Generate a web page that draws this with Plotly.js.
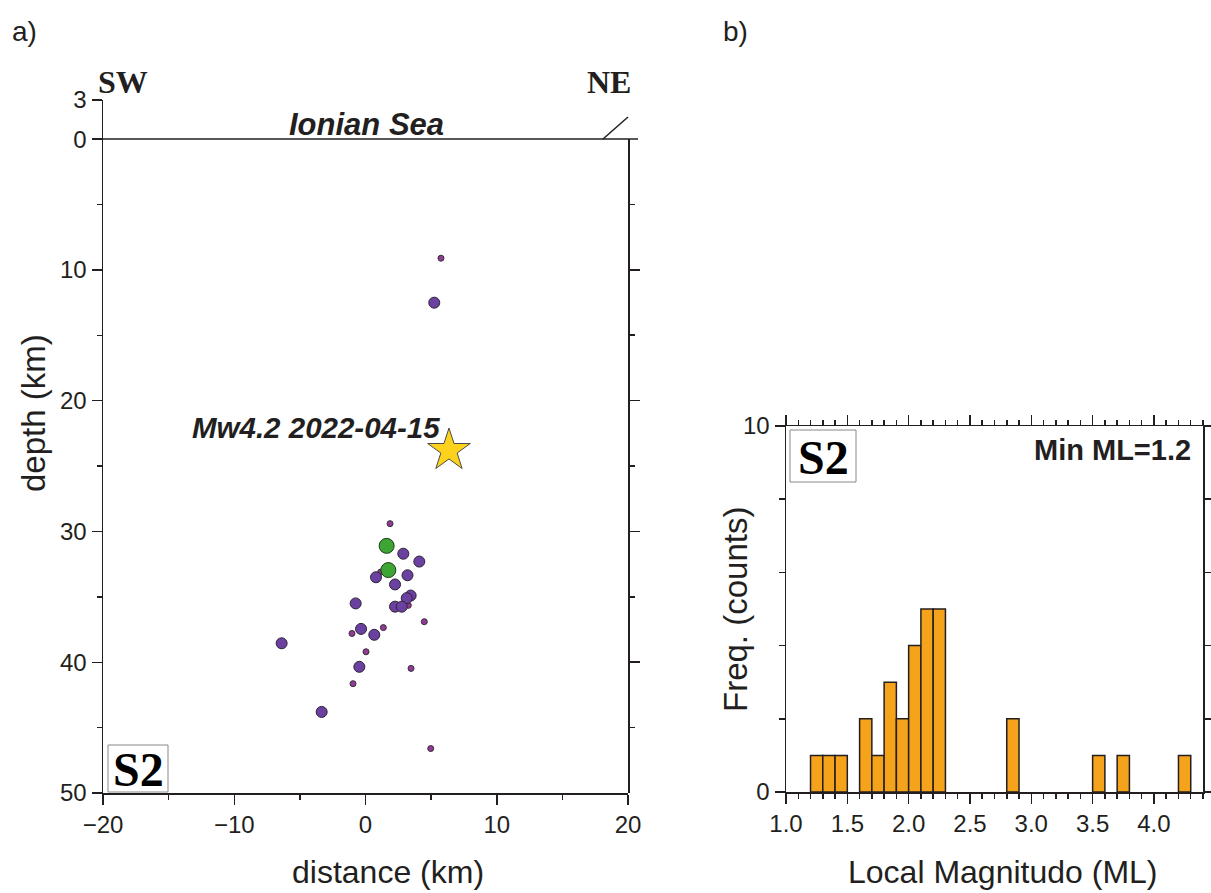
<!DOCTYPE html>
<html>
<head>
<meta charset="utf-8">
<script src="https://cdn.plot.ly/plotly-3.0.1.min.js"></script>
<style>html,body{margin:0;padding:0;background:#fff;}</style>
</head>
<body>
<div id="chart" style="width:1211px;height:893px;"></div>
<script>
// ---- Data: cross-section S2 (distance km, depth km) ----
const smallDist  = [5.75, 1.87, 1.16, 3.26, 4.48, 1.36, -1.03, 0.04, 3.47, -0.95, 4.97];
const smallDepth = [9.1, 29.4, 33.1, 35.65, 36.9, 37.35, 37.8, 39.2, 40.47, 41.64, 46.6];
const midDist    = [5.24, 2.88, 4.1, 0.8, 3.2, 2.25, 3.44, 3.14, -0.75, 2.25, 2.76, -0.34, 0.67, -6.39, -0.47, -3.34];
const midDepth   = [12.5, 31.7, 32.3, 33.5, 33.35, 34.05, 34.9, 35.1, 35.5, 35.75, 35.75, 37.45, 37.9, 38.55, 40.35, 43.8];
const bigDist    = [1.61, 1.74];
const bigDepth   = [31.1, 32.95];
const mainDist   = [6.36];
const mainDepth  = [23.8];
const mainLabel  = "Mw4.2 2022-04-15";

// ---- Data: histogram of local magnitude ----
const mlBinStart = [1.2, 1.3, 1.4, 1.6, 1.7, 1.8, 1.9, 2.0, 2.1, 2.2, 2.8, 3.5, 3.7, 4.2];
const mlCounts   = [1, 1, 1, 2, 1, 3, 2, 4, 5, 5, 2, 1, 1, 1];
const mlBinWidth = 0.1;

const depthTicks = [-3, 0, 10, 20, 30, 40, 50];
const depthTickText = ["3", "0", "10", "20", "30", "40", "50"];
const distTicks = [-20, -10, 0, 10, 20];
const mlTicks = [1.0, 1.5, 2.0, 2.5, 3.0, 3.5, 4.0];
const mlTickText = ["1.0", "1.5", "2.0", "2.5", "3.0", "3.5", "4.0"];
const freqTicks = [0, 10];

// ---- Layout helpers ----
const W = 1211, H = 893;
const fx = p => p / W;
const fy = p => 1 - p / H;
const INK = '#231f20';
const SANS = 'Liberation Sans, Arial, sans-serif';
const SERIF = 'Liberation Serif, Times New Roman, serif';

const traces = [
  {x: smallDist, y: smallDepth, xaxis: 'x', yaxis: 'y', type: 'scatter', mode: 'markers',
   marker: {size: 6, color: '#8f3c94', line: {color: '#3a2a3a', width: 1}}, hoverinfo: 'x+y'},
  {x: midDist, y: midDepth, xaxis: 'x', yaxis: 'y', type: 'scatter', mode: 'markers',
   marker: {size: 11, color: '#6a41a0', line: {color: '#2e2233', width: 1}}, hoverinfo: 'x+y'},
  {x: bigDist, y: bigDepth, xaxis: 'x', yaxis: 'y', type: 'scatter', mode: 'markers',
   marker: {size: 15, color: '#3da534', line: {color: '#1f3a1c', width: 1}}, hoverinfo: 'x+y'},
  {x: mainDist, y: mainDepth, xaxis: 'x', yaxis: 'y', type: 'scatter', mode: 'markers',
   marker: {size: 32, symbol: 'star', color: '#fdd21c', line: {color: '#4a4a4a', width: 1}}, hoverinfo: 'x+y'},
  {x: [], y: [], xaxis: 'x', yaxis: 'y3', type: 'scatter', mode: 'markers', hoverinfo: 'skip'},
  {x: mlBinStart, y: mlCounts, xaxis: 'x2', yaxis: 'y2', type: 'bar', width: mlBinWidth, offset: 0,
   marker: {color: '#f6a31c', line: {color: INK, width: 1.5}}}
];

const axisCommon = {
  showline: true, linecolor: INK, linewidth: 1.5, ticks: 'outside', ticklen: 10, tickwidth: 1.5,
  tickcolor: INK, showgrid: false, zeroline: false, fixedrange: true,
  tickfont: {family: SANS, size: 24, color: INK}
};

const layout = {
  width: W, height: H, margin: {l: 0, r: 0, t: 0, b: 0},
  paper_bgcolor: '#fff', plot_bgcolor: 'rgba(0,0,0,0)', showlegend: false, bargap: 0,
  xaxis: Object.assign({}, axisCommon, {
    domain: [fx(103), fx(628)], range: [-20, 20], anchor: 'y',
    tickmode: 'array', tickvals: distTicks,
    minor: {tickmode: 'array', tickvals: [-15, -5, 5, 15], ticks: 'outside', ticklen: 5, tickwidth: 1.5, tickcolor: INK}
  }),
  yaxis: Object.assign({}, axisCommon, {
    domain: [fy(793), fy(100)], range: [50, -3], anchor: 'x',
    tickmode: 'array', tickvals: depthTicks, ticktext: depthTickText,
    minor: {tickmode: 'array', tickvals: [5, 15, 25, 35, 45], ticks: 'outside', ticklen: 5, tickwidth: 1.5, tickcolor: INK}
  }),
  yaxis3: Object.assign({}, axisCommon, {
    domain: [fy(793), fy(139)], range: [50, 0], anchor: 'x', side: 'right',
    tickmode: 'array', tickvals: [10, 20, 30, 40], showticklabels: false,
    minor: {tickmode: 'array', tickvals: [5, 15, 25, 35, 45], ticks: 'outside', ticklen: 5, tickwidth: 1.5, tickcolor: INK}
  }),
  xaxis2: Object.assign({}, axisCommon, {
    domain: [fx(786), fx(1203)], range: [1.0, 4.4], anchor: 'y2', mirror: 'ticks',
    tickmode: 'array', tickvals: mlTicks, ticktext: mlTickText,
    minor: {tick0: 1.0, dtick: 0.1, ticks: 'outside', ticklen: 5, tickwidth: 1.5, tickcolor: INK}
  }),
  yaxis2: Object.assign({}, axisCommon, {
    domain: [fy(792), fy(426)], range: [0, 10], anchor: 'x2', mirror: 'ticks',
    tickmode: 'array', tickvals: freqTicks,
    minor: {tickmode: 'array', tickvals: [2, 4, 6, 8], ticks: 'outside', ticklen: 6, tickwidth: 1.5, tickcolor: INK}
  }),
  shapes: [
    {type: 'line', xref: 'paper', yref: 'paper', x0: fx(103), x1: fx(638), y0: fy(139), y1: fy(139), line: {color: INK, width: 1.5}},
    {type: 'line', xref: 'paper', yref: 'paper', x0: fx(603), x1: fx(628), y0: fy(139), y1: fy(117), line: {color: INK, width: 1.5}},
    {type: 'rect', xref: 'paper', yref: 'paper', x0: fx(108), x1: fx(168), y0: fy(792), y1: fy(745), line: {color: '#888', width: 1}, fillcolor: '#fff'},
    {type: 'rect', xref: 'paper', yref: 'paper', x0: fx(790), x1: fx(856), y0: fy(482), y1: fy(430), line: {color: '#888', width: 1}, fillcolor: '#fff'}
  ],
  annotations: [
    {text: 'a)', x: fx(10), y: fy(31), xanchor: 'left', yanchor: 'middle', font: {family: SANS, size: 28, color: INK}},
    {text: 'b)', x: fx(721), y: fy(31), xanchor: 'left', yanchor: 'middle', font: {family: SANS, size: 28, color: INK}},
    {text: 'SW', x: fx(96), y: fy(82), xanchor: 'left', yanchor: 'middle', font: {family: SERIF, size: 32, weight: 'bold', color: INK}},
    {text: 'NE', x: fx(633), y: fy(82), xanchor: 'right', yanchor: 'middle', font: {family: SERIF, size: 32, weight: 'bold', color: INK}},
    {text: 'Ionian Sea', x: fx(367), y: fy(124), xanchor: 'center', yanchor: 'middle', font: {family: SANS, size: 31, weight: 'bold', style: 'italic', color: INK}},
    {text: mainLabel, x: fx(316), y: fy(427), xanchor: 'center', yanchor: 'middle', font: {family: SANS, size: 29.5, weight: 'bold', style: 'italic', color: INK}},
    {text: 'Min ML=1.2', x: fx(1193), y: fy(450), xanchor: 'right', yanchor: 'middle', font: {family: SANS, size: 29, weight: 'bold', color: INK}},
    {text: 'S2', x: fx(138), y: fy(769), xanchor: 'center', yanchor: 'middle', font: {family: SERIF, size: 48, weight: 'bold', color: '#000'}},
    {text: 'S2', x: fx(823), y: fy(457), xanchor: 'center', yanchor: 'middle', font: {family: SERIF, size: 48, weight: 'bold', color: '#000'}},
    {text: 'depth (km)', x: fx(33), y: fy(413), xanchor: 'center', yanchor: 'middle', textangle: -90, font: {family: SANS, size: 33, color: INK}},
    {text: 'distance (km)', x: fx(388), y: fy(872), xanchor: 'center', yanchor: 'middle', font: {family: SANS, size: 32, color: INK}},
    {text: 'Freq. (counts)', x: fx(735), y: fy(610), xanchor: 'center', yanchor: 'middle', textangle: -90, font: {family: SANS, size: 33, color: INK}},
    {text: 'Local Magnitudo (ML)', x: fx(1002), y: fy(872), xanchor: 'center', yanchor: 'middle', font: {family: SANS, size: 32, color: INK}}
  ].map(a => Object.assign({xref: 'paper', yref: 'paper', showarrow: false}, a))
};

Plotly.newPlot('chart', traces, layout, {staticPlot: true, displayModeBar: false});
</script>
</body>
</html>
